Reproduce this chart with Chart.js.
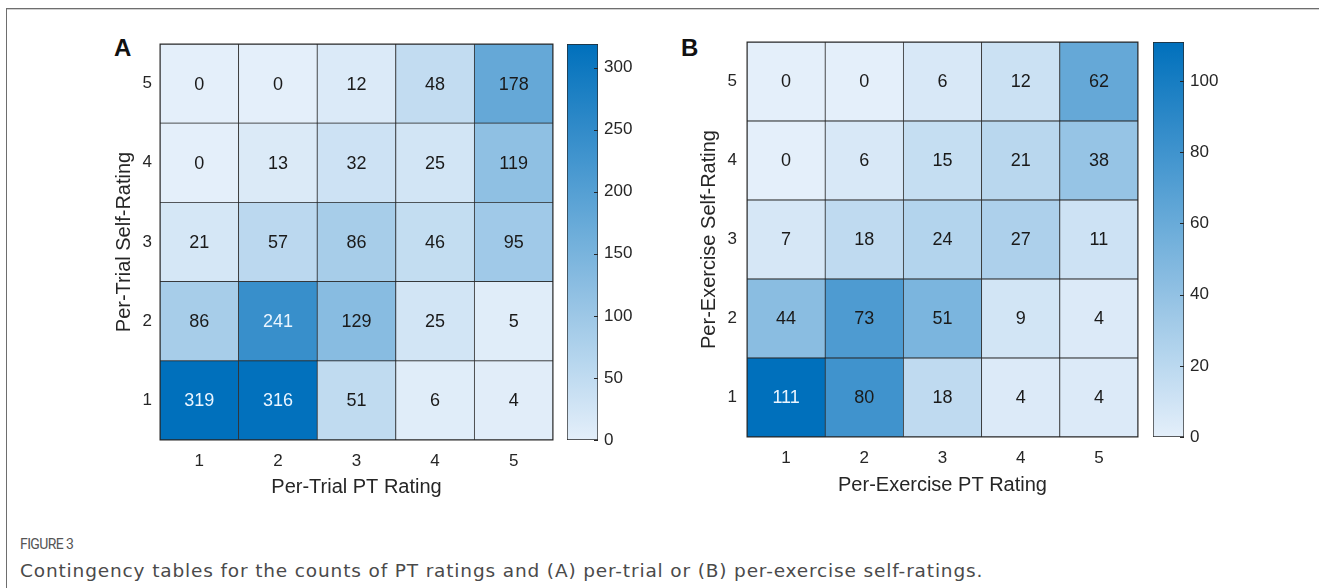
<!DOCTYPE html>
<html>
<head>
<meta charset="utf-8">
<title>Contingency tables</title>
<script src="https://cdn.jsdelivr.net/npm/chart.js@4.4.1/dist/chart.umd.min.js"></script>
<style>
  html, body { margin: 0; padding: 0; background: #fff; }
  body { width: 1319px; height: 588px; position: relative; overflow: hidden; }
  .frame { position: absolute; left: 6px; top: 8px; width: 1400px; height: 700px;
           border-left: 1.5px solid #6e6e6e; border-top: 1.5px solid #6e6e6e;
           box-shadow: inset 0 1px 0 #d0d0d0; }
  canvas { position: absolute; }
  .panel { position: absolute; font: bold 24px "Liberation Sans", Arial, sans-serif;
           line-height: 24px; color: #111; }
  .fig { position: absolute; left: 20px; top: 536px; font: 14px Roboto, "Open Sans", sans-serif;
         line-height: 16px; color: #555; letter-spacing: -0.6px; }
  .cap { position: absolute; left: 20px; top: 561px; font: 18.5px "DejaVu Sans", sans-serif;
         line-height: 20px; color: #4a4a4a; white-space: nowrap; letter-spacing: 0.85px; }
</style>
</head>
<body>
<div class="frame"></div>
<div class="panel" style="left:114px;top:36px">A</div>
<div class="panel" style="left:681px;top:36px">B</div>
<canvas id="heatA" width="460" height="480" style="left:100px;top:30px"></canvas>
<canvas id="barA" width="80" height="480" style="left:560px;top:30px"></canvas>
<canvas id="heatB" width="460" height="480" style="left:687px;top:30px"></canvas>
<canvas id="barB" width="80" height="480" style="left:1147px;top:30px"></canvas>
<div class="fig">FIGURE 3</div>
<div class="cap">Contingency tables for the counts of PT ratings and (A) per-trial or (B) per-exercise self-ratings.</div>

<script>
// Rating levels shared by both tables
const ptRatings = ['1', '2', '3', '4', '5'];
const selfRatings = [1, 2, 3, 4, 5];

// Counts per self-rating row (1..5), columns are PT ratings 1..5
const trialCounts = [
  [319, 316, 51, 6, 4],
  [86, 241, 129, 25, 5],
  [21, 57, 86, 46, 95],
  [0, 13, 32, 25, 119],
  [0, 0, 12, 48, 178]
];
const exerciseCounts = [
  [111, 80, 18, 4, 4],
  [44, 73, 51, 9, 4],
  [7, 18, 24, 27, 11],
  [0, 6, 15, 21, 38],
  [0, 0, 6, 12, 62]
];

// Colour bar tick labels
const trialBarTicks = [0, 50, 100, 150, 200, 250, 300];
const exerciseBarTicks = [0, 20, 40, 60, 80, 100];

const FONT = '"Liberation Sans", Arial, sans-serif';
const INK = '#262626';
Chart.defaults.font.family = FONT;
Chart.defaults.color = INK;

// Light-to-dark blue colour map
const LOW = [228, 239, 250];
const HIGH = [0, 112, 188];
function mix(t) {
  return LOW.map((c, i) => Math.round(c + (HIGH[i] - c) * t));
}
function colorFor(v, max) {
  const [r, g, b] = mix(Math.max(0, Math.min(1, v / max)));
  return `rgb(${r},${g},${b})`;
}
function textColorFor(v, max) {
  const [r, g, b] = mix(v / max);
  const lum = (0.299 * r + 0.587 * g + 0.114 * b) / 255;
  return lum < 0.5 ? '#eaf5ff' : '#1a1a1a';
}

// Writes each cell's count in the middle of its rectangle and outlines the grid
const cellLabels = {
  id: 'cellLabels',
  afterDatasetsDraw(chart) {
    const ctx = chart.ctx;
    const max = chart.options.plugins.cellLabels.max;
    ctx.save();
    ctx.font = '18px ' + FONT;
    ctx.textAlign = 'center';
    ctx.textBaseline = 'middle';
    chart.data.datasets.forEach((ds, i) => {
      chart.getDatasetMeta(i).data.forEach((bar, j) => {
        const v = ds.counts[j];
        ctx.fillStyle = textColorFor(v, max);
        ctx.fillText(String(v), bar.x, (bar.y + bar.base) / 2 + 1);
      });
    });
    const a = chart.chartArea;
    ctx.strokeStyle = '#262626';
    ctx.lineWidth = 1;
    ctx.strokeRect(a.left, a.top, a.right - a.left, a.bottom - a.top);
    ctx.restore();
  }
};

// Short inward tick marks on the right edge of a colour bar
const innerTicks = {
  id: 'innerTicks',
  afterDatasetsDraw(chart) {
    const ctx = chart.ctx;
    const y = chart.scales.y;
    const a = chart.chartArea;
    ctx.save();
    ctx.strokeStyle = INK;
    ctx.lineWidth = 1;
    y.ticks.forEach(t => {
      const py = Math.round(y.getPixelForValue(t.value)) + 0.5;
      ctx.beginPath();
      ctx.moveTo(a.right, py);
      ctx.lineTo(a.right - 4, py);
      ctx.stroke();
    });
    ctx.restore();
  }
};

function heatmap(id, counts, xTitle, yTitle, g) {
  const max = Math.max(...counts.flat());
  const datasets = selfRatings.map((r, i) => ({
    data: ptRatings.map(() => [r - 0.5, r + 0.5]),
    counts: counts[i],
    backgroundColor: counts[i].map(v => colorFor(v, max)),
    borderColor: '#262626',
    borderWidth: 0.75,
    borderSkipped: false,
    barPercentage: 1,
    categoryPercentage: 1,
    grouped: false
  }));
  return new Chart(document.getElementById(id), {
    type: 'bar',
    data: { labels: ptRatings, datasets },
    plugins: [cellLabels],
    options: {
      responsive: false,
      animation: false,
      devicePixelRatio: 1,
      layout: { padding: { left: 0, top: g.top, right: g.right, bottom: 0 } },
      plugins: { legend: { display: false }, tooltip: { enabled: false }, cellLabels: { max } },
      scales: {
        x: {
          type: 'category',
          offset: true,
          grid: { display: false, drawTicks: false },
          border: { display: false },
          ticks: { font: { size: 17 }, padding: g.xPad, color: INK, maxRotation: 0 },
          title: { display: true, text: xTitle, font: { size: 20 }, color: INK,
                   padding: { top: 0, bottom: g.xTitlePad } },
          afterFit(s) { s.height = g.xHeight; s.paddingLeft = 0; s.paddingRight = 0; }
        },
        y: {
          type: 'linear',
          min: 0.5,
          max: 5.5,
          grid: { display: false, drawTicks: false },
          border: { display: false },
          afterBuildTicks(s) { s.ticks = selfRatings.map(v => ({ value: v })); },
          ticks: { font: { size: 17 }, padding: g.yPad, color: INK,
                   callback: v => String(v) },
          title: { display: true, text: yTitle, font: { size: 20 }, color: INK,
                   padding: { top: g.yTitlePad, bottom: 0 } },
          afterFit(s) { s.width = 60; s.paddingTop = 0; s.paddingBottom = 0; }
        }
      }
    }
  });
}

function colorBar(id, counts, tickValues, g) {
  const max = Math.max(...counts.flat());
  return new Chart(document.getElementById(id), {
    type: 'bar',
    data: {
      labels: [''],
      datasets: [{
        data: [[0, max]],
        backgroundColor(ctx) {
          const area = ctx.chart.chartArea;
          if (!area) return colorFor(max / 2, max);
          const grad = ctx.chart.ctx.createLinearGradient(0, area.bottom, 0, area.top);
          for (let k = 0; k <= 10; k++) grad.addColorStop(k / 10, colorFor(k * max / 10, max));
          return grad;
        },
        borderColor: '#262626',
        borderWidth: 1,
        borderSkipped: false,
        barPercentage: 1,
        categoryPercentage: 1
      }]
    },
    plugins: [innerTicks],
    options: {
      responsive: false,
      animation: false,
      devicePixelRatio: 1,
      layout: { padding: { left: g.left, top: g.top, right: 0, bottom: g.bottom } },
      plugins: { legend: { display: false }, tooltip: { enabled: false } },
      scales: {
        x: { display: false },
        y: {
          position: 'right',
          min: 0,
          max: max,
          grid: { display: false, drawTicks: false },
          border: { display: false },
          afterBuildTicks(s) { s.ticks = tickValues.map(v => ({ value: v })); },
          ticks: { font: { size: 17 }, padding: 6, color: INK },
          afterFit(s) { s.width = g.width; s.paddingTop = 0; s.paddingBottom = 0; }
        }
      }
    }
  });
}

heatmap('heatA', trialCounts, 'Per-Trial PT Rating', 'Per-Trial Self-Rating',
  { top: 14, right: 7, xHeight: 70, xPad: 11, xTitlePad: 11, yPad: 8, yTitlePad: 12 });
colorBar('barA', trialCounts, trialBarTicks, { left: 7, top: 14, bottom: 70, width: 42 });

heatmap('heatB', exerciseCounts, 'Per-Exercise PT Rating', 'Per-Exercise Self-Rating',
  { top: 12, right: 9, xHeight: 73, xPad: 11, xTitlePad: 13, yPad: 10, yTitlePad: 10 });
colorBar('barB', exerciseCounts, exerciseBarTicks, { left: 6, top: 12, bottom: 73, width: 43 });
</script>
</body>
</html>
